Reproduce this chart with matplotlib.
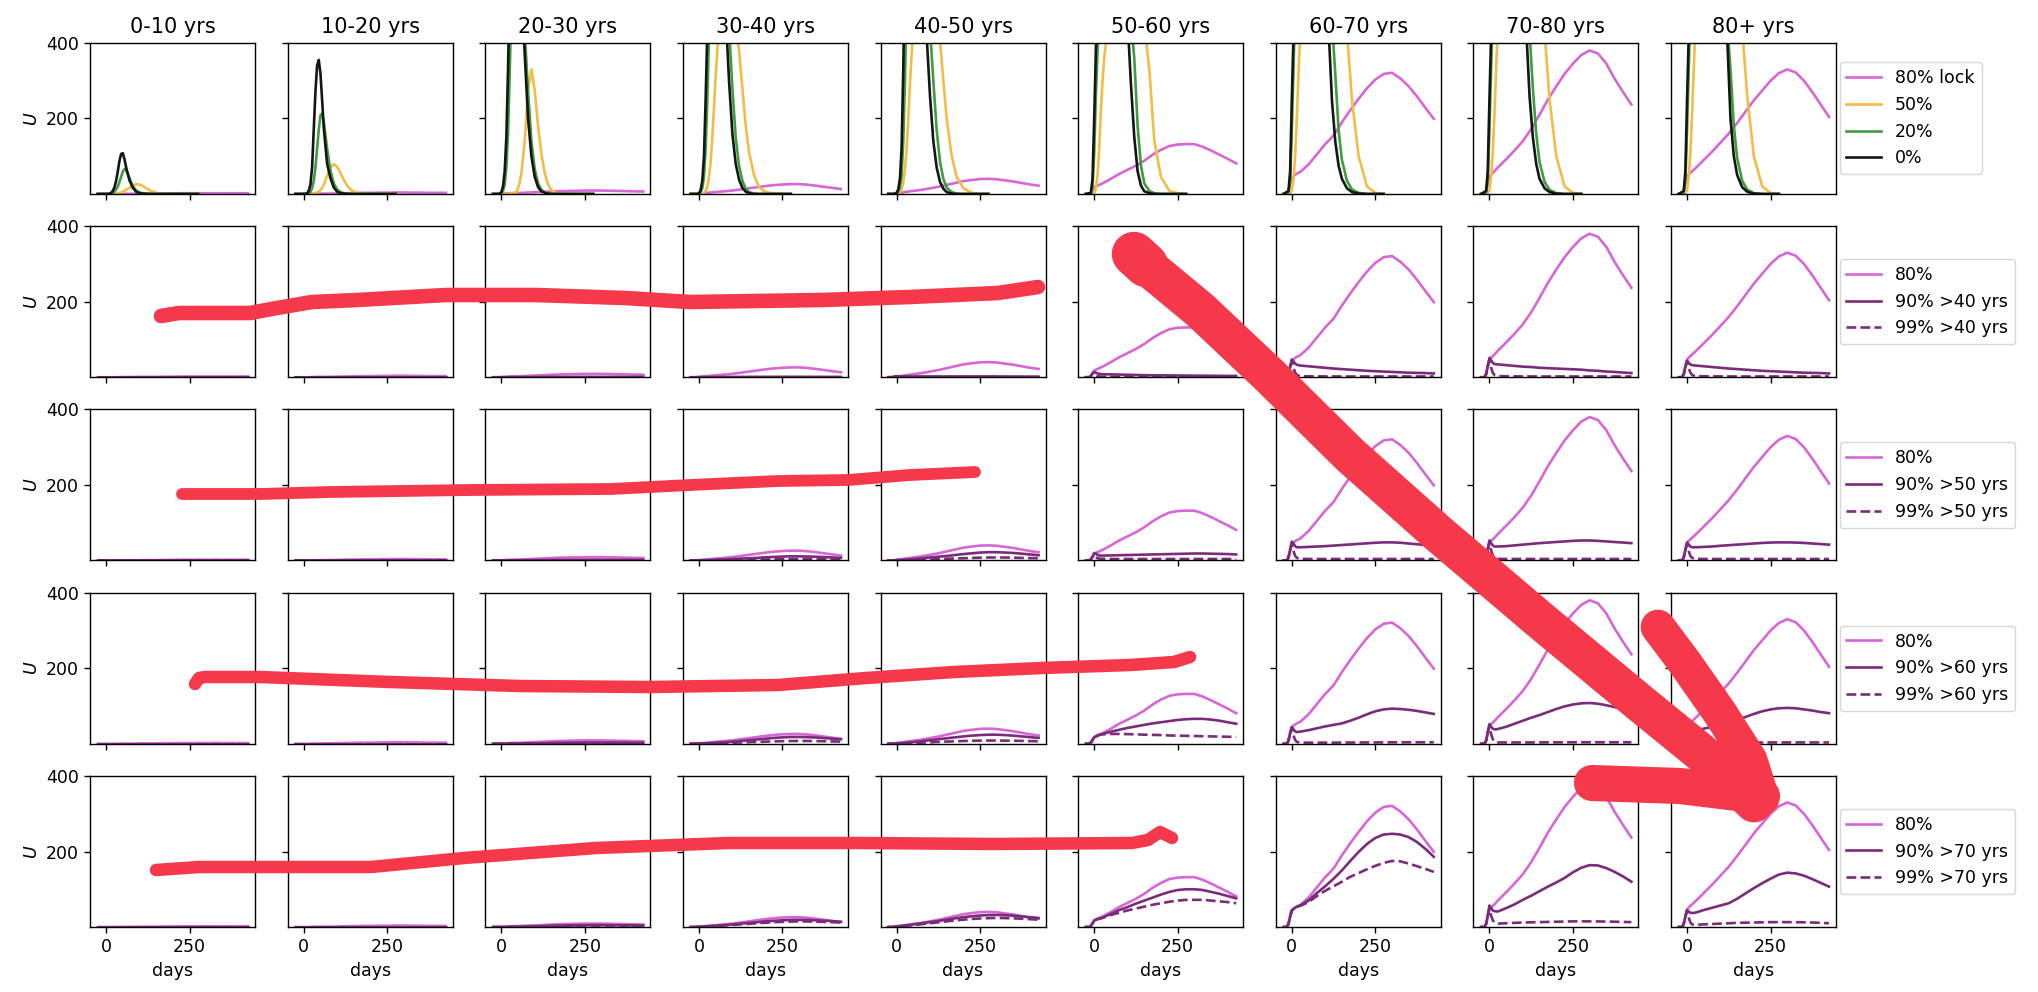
import numpy as np
import matplotlib
matplotlib.use("Agg")
import matplotlib.pyplot as plt
from matplotlib.lines import Line2D

# ---------------- data ----------------
age_groups = ["0-10 yrs", "10-20 yrs", "20-30 yrs", "30-40 yrs", "40-50 yrs",
              "50-60 yrs", "60-70 yrs", "70-80 yrs", "80+ yrs"]
thresholds = [40, 50, 60, 70]

# day grid of the slow (lockdown) runs
days = [-25, -15, -10, -5, 0, 5, 10, 15, 25, 50, 75, 100, 125, 150, 175, 200,
        225, 250, 275, 300, 325, 350, 375, 400, 425]
# day grid of the fast (little / no lockdown) runs
days_fast = [-25, -10, -5, 0, 5, 10, 15, 20, 25, 30, 35, 40, 45, 50, 55, 60, 70,
             80, 90, 100, 110, 120, 130, 140, 150, 165, 180, 200, 225, 250, 275]

Z = [0, 0, 0, 0, 0, 0, 0, 0, 0, 0, 0, 0, 0, 0, 0, 0, 0, 0, 0, 0, 0, 0, 0, 0, 0]

# 80 % lockdown (all age groups)
LOCK80 = [
    [0, 0, 0, 0, 0, 0, 0, 0, 0, 0.5, 0.5, 1, 1, 1, 1.5, 1.5, 2, 2, 2, 2, 2, 2, 2, 2, 2],
    [0, 0, 0, 0, 0, 0, 0, 0, 0.5, 1, 1, 1.5, 2, 2.5, 3, 3, 3.5, 3.5, 4, 4, 3.5, 3.5, 3, 3, 3],
    [0, 0, 0, 0, 0.5, 1, 1, 1.5, 2, 2.5, 3.5, 4.5, 5.5, 6.5, 7.5, 8, 8.5, 9, 9, 9, 8.5, 8, 7.5, 7, 6.5],
    [0, 0, 0, 0.5, 1, 1.5, 2, 2, 3, 5, 7, 9, 12, 15, 18, 21, 23.5, 25, 26, 26, 24.5, 22, 19, 16, 13],
    [0, 0, 0, 1, 2, 2.5, 3, 3.5, 5, 8, 11, 15, 19, 24, 29, 34, 37, 39.5, 40, 39, 36, 33, 29, 25, 22],
    [0, 0, 3, 10, 18, 20, 22, 24, 28, 40, 53, 64, 75, 88, 104, 117, 127, 131, 132, 132, 125, 115, 104, 93, 81],
    [0, 0, 8, 28, 44, 48, 51, 54, 58, 78, 105, 132, 155, 190, 222, 252, 280, 303, 318, 321, 306, 285, 258, 228, 199],
    [0, 0, 8, 28, 46, 52, 56, 60, 70, 92, 115, 140, 172, 210, 250, 285, 318, 345, 368, 380, 372, 345, 305, 270, 237],
    [0, 0, 8, 28, 46, 52, 56, 60, 68, 90, 112, 136, 160, 188, 218, 248, 274, 300, 320, 330, 322, 300, 270, 237, 204],
]

# 50 % lockdown
FAST50 = [
    [0, 0, 0, 0, 0, 0, 0, 0, 1, 1, 2, 3, 4, 6, 8, 11, 17, 22, 26, 25, 21, 15, 10, 6, 3, 1, 0, 0, 0, 0, 0],
    [0, 0, 0, 0, 0, 0, 0, 0, 1, 2, 3, 4, 6, 10, 16, 25, 48, 70, 79, 72, 55, 37, 22, 12, 6, 2, 1, 0, 0, 0, 0],
    [0, 0, 0, 0, 0, 0, 0, 0, 1, 2, 3, 3, 5, 15, 30, 55, 140, 275, 330, 275, 180, 105, 55, 25, 10, 3, 1, 0, 0, 0, 0],
    [0, 0, 0, 0, 0, 1, 3, 8, 20, 45, 85, 150, 230, 310, 380, 450, 560, 600, 580, 520, 450, 380, 280, 180, 110, 50, 18, 5, 1, 0, 0],
    [0, 0, 0, 0, 1, 4, 12, 30, 65, 120, 200, 290, 370, 440, 510, 580, 700, 750, 730, 660, 560, 470, 410, 300, 200, 100, 45, 15, 3, 0, 0],
    [0, 0, 0, 2, 15, 50, 120, 220, 300, 360, 400, 450, 500, 600, 680, 750, 850, 950, 950, 900, 820, 750, 650, 550, 450, 330, 140, 45, 8, 2, 0],
    [0, 0, 2, 10, 40, 100, 200, 320, 420, 520, 600, 680, 760, 830, 900, 950, 1050, 1100, 1080, 1000, 900, 800, 700, 600, 520, 430, 250, 100, 20, 3, 0],
    [0, 0, 2, 10, 45, 110, 210, 330, 440, 540, 620, 700, 780, 850, 920, 980, 1080, 1120, 1100, 1020, 920, 820, 720, 620, 530, 430, 250, 100, 20, 3, 0],
    [0, 0, 2, 10, 45, 110, 210, 330, 440, 540, 620, 700, 780, 850, 920, 980, 1080, 1120, 1100, 1030, 940, 840, 740, 640, 550, 440, 260, 100, 20, 3, 0],
]

# 20 % lockdown
FAST20 = [
    [0, 0, 0, 0, 0, 0, 1, 3, 6, 12, 20, 32, 46, 59, 66, 63, 42, 21, 9, 4, 2, 1, 0, 0, 0, 0, 0, 0, 0, 0, 0],
    [0, 0, 0, 0, 0, 1, 2, 5, 15, 35, 70, 120, 170, 208, 213, 192, 120, 62, 28, 12, 5, 2, 1, 0, 0, 0, 0, 0, 0, 0, 0],
    [0, 0, 0, 2, 8, 25, 70, 160, 320, 500, 700, 820, 850, 820, 720, 610, 430, 270, 140, 65, 28, 11, 4, 1, 0, 0, 0, 0, 0, 0, 0],
    [0, 0, 0, 1, 5, 15, 45, 120, 250, 420, 650, 880, 1050, 1150, 1150, 1100, 850, 600, 440, 280, 150, 75, 35, 14, 5, 1, 0, 0, 0, 0, 0],
    [0, 0, 0, 1, 5, 18, 50, 140, 300, 500, 750, 1000, 1200, 1400, 1400, 1350, 1050, 750, 550, 440, 300, 170, 85, 40, 17, 5, 1, 0, 0, 0, 0],
    [0, 1, 20, 110, 260, 380, 500, 800, 1100, 1400, 1600, 1800, 1850, 1800, 1700, 1500, 1150, 900, 700, 560, 460, 360, 180, 75, 28, 8, 2, 0, 0, 0, 0],
    [0, 4, 35, 170, 330, 500, 800, 1100, 1400, 1700, 1900, 2000, 2050, 2000, 1900, 1750, 1400, 1050, 800, 620, 520, 460, 320, 170, 90, 35, 12, 3, 0, 0, 0],
    [0, 4, 35, 170, 330, 500, 800, 1100, 1400, 1700, 1900, 2050, 2100, 2050, 1950, 1800, 1450, 1100, 850, 650, 520, 430, 280, 160, 85, 32, 11, 2, 0, 0, 0],
    [0, 4, 35, 170, 330, 500, 800, 1100, 1400, 1700, 1900, 2050, 2100, 2050, 1950, 1800, 1450, 1150, 900, 700, 560, 460, 330, 180, 95, 35, 12, 2, 0, 0, 0],
]

# 0 % lockdown
FAST0 = [
    [0, 0, 0, 0, 0, 1, 3, 8, 18, 35, 60, 88, 106, 108, 92, 70, 36, 16, 6, 2, 1, 0, 0, 0, 0, 0, 0, 0, 0, 0, 0],
    [0, 0, 0, 0, 0, 2, 8, 25, 70, 170, 270, 340, 355, 320, 250, 175, 80, 42, 17, 6, 2, 1, 0, 0, 0, 0, 0, 0, 0, 0, 0],
    [0, 0, 1, 5, 20, 60, 150, 330, 550, 760, 900, 950, 920, 820, 680, 540, 370, 200, 100, 45, 18, 7, 3, 1, 0, 0, 0, 0, 0, 0, 0],
    [0, 0, 0, 2, 10, 35, 100, 250, 430, 650, 900, 1100, 1250, 1300, 1200, 1100, 800, 480, 300, 160, 80, 38, 16, 6, 2, 0, 0, 0, 0, 0, 0],
    [0, 0, 1, 3, 12, 40, 120, 330, 600, 900, 1150, 1400, 1500, 1600, 1500, 1400, 1000, 650, 420, 260, 140, 70, 32, 14, 5, 1, 0, 0, 0, 0, 0],
    [0, 3, 40, 200, 380, 700, 1000, 1300, 1600, 1800, 1900, 2000, 2000, 1900, 1750, 1600, 1250, 900, 650, 460, 290, 150, 60, 22, 7, 2, 0, 0, 0, 0, 0],
    [0, 8, 60, 250, 420, 750, 1100, 1400, 1700, 1900, 2100, 2200, 2200, 2100, 2000, 1800, 1400, 1000, 700, 520, 440, 250, 140, 75, 40, 15, 5, 1, 0, 0, 0],
    [0, 8, 60, 250, 420, 750, 1100, 1400, 1700, 1900, 2100, 2200, 2250, 2200, 2100, 1900, 1500, 1100, 780, 560, 440, 260, 150, 80, 40, 15, 5, 1, 0, 0, 0],
    [0, 8, 60, 250, 420, 750, 1100, 1400, 1700, 1900, 2100, 2200, 2250, 2200, 2100, 1950, 1550, 1150, 820, 600, 480, 420, 200, 100, 50, 18, 6, 1, 0, 0, 0],
]

# 90 % / 99 % lockdown of the groups above 40 years
P90_GT40 = [
    Z, Z,
    [0, 0, 0, 0, 0, 0, 0, 0, 0, 0.2, 0.3, 0.4, 0.5, 0.6, 0.7, 0.8, 0.8, 0.9, 0.9, 0.9, 0.9, 0.8, 0.8, 0.7, 0.7],
    [0, 0, 0, 0, 0.3, 0.3, 0.3, 0.3, 0.4, 0.5, 0.6, 0.7, 0.8, 0.9, 1, 1, 1.1, 1.1, 1.1, 1.1, 1, 1, 0.9, 0.9, 0.8],
    [0, 0, 0.5, 2, 3, 2.5, 2, 2, 2, 2, 2, 2, 2, 2, 2, 2, 2, 2, 2, 2, 1.8, 1.7, 1.6, 1.5, 1.4],
    [0, 0, 3, 10, 14, 12, 10, 9, 8, 7.5, 7, 6.5, 6, 5.5, 5, 5, 4.8, 4.6, 4.4, 4.2, 4, 3.9, 3.7, 3.6, 3.5],
    [0, 0, 8, 28, 47, 42, 36, 33, 31, 29, 27, 25, 23, 21.5, 20, 18.5, 17, 16, 15, 14, 13, 12, 11.5, 11, 10],
    [0, 0, 8, 30, 51, 45, 38, 35, 34, 32, 30, 28, 27, 25, 24, 23, 22, 21, 20, 18, 17, 15, 14, 12.5, 11],
    [0, 0, 8, 28, 44, 38, 34, 32, 31, 29, 27, 25, 23, 21.5, 20, 18.5, 17, 16, 15, 14, 13, 12, 11.5, 11, 10],
]
P99_GT40 = [
    Z, Z, Z, Z,
    [0, 0, 0.5, 2, 2.5, 1.5, 1, 0.7, 0.5, 0.5, 0.5, 0.5, 0.5, 0.5, 0.5, 0.5, 0.5, 0.5, 0.5, 0.5, 0.5, 0.5, 0.5, 0.5, 0.5],
    [0, 0, 3, 10, 12, 6, 3, 2, 1.5, 1.2, 1, 1, 1, 1, 1, 1, 1, 1, 1, 1, 1, 1, 1, 1, 1],
    [0, 0, 8, 28, 42, 25, 12, 6, 3, 2.5, 2.3, 2.2, 2.1, 2, 2, 2, 2, 2, 2, 2, 2, 2, 2, 2, 2],
    [0, 0, 8, 30, 45, 25, 12, 6, 3, 2.5, 2.3, 2.2, 2.1, 2, 2, 2, 2, 2, 2, 2, 2, 2, 2, 2, 2],
    [0, 0, 8, 28, 42, 24, 12, 6, 3, 2.5, 2.3, 2.2, 2.1, 2, 2, 2, 2, 2, 2, 2, 2, 2, 2, 2, 2],
]

# above 50 years
P90_GT50 = [
    Z, Z,
    [0, 0, 0, 0, 0, 0, 0, 0, 0.2, 0.4, 0.6, 0.8, 1, 1.2, 1.4, 1.6, 1.8, 1.9, 2, 2, 1.9, 1.8, 1.7, 1.6, 1.5],
    [0, 0, 0, 0, 0.5, 0.5, 0.6, 0.7, 1, 2, 3, 4, 5, 6, 7, 8.5, 9.5, 10.5, 11, 11, 10.5, 10, 9, 8, 7],
    [0, 0, 0, 0.5, 1, 1.2, 1.4, 1.6, 2, 4, 6, 8, 10, 12, 14.5, 17, 19, 21, 22, 22, 21, 20, 18, 16, 14],
    [0, 0, 3, 10, 20, 18, 15, 13, 13, 13.5, 14, 14.5, 15, 15.5, 16, 16.5, 17, 17.5, 18, 18.5, 18.5, 18, 17.5, 17, 16],
    [0, 0, 8, 28, 50, 44, 38, 35, 35, 36, 37, 38, 39.5, 41, 42.5, 44, 45.5, 47, 48, 48, 47, 45, 43, 41, 39],
    [0, 0, 8, 30, 53, 46, 40, 37, 37, 38, 40, 42, 44, 46, 47.5, 49, 50.5, 52, 53, 53, 52, 50.5, 49, 47.5, 46],
    [0, 0, 8, 28, 48, 42, 37, 35, 35, 36, 37, 39, 40.5, 42, 43.5, 45, 46.5, 47.5, 48, 48, 47.5, 46.5, 45, 43.5, 42],
]
P99_GT50 = [
    Z, Z,
    [0, 0, 0, 0, 0, 0, 0, 0, 0.1, 0.2, 0.3, 0.4, 0.5, 0.5, 0.6, 0.6, 0.7, 0.7, 0.7, 0.7, 0.7, 0.7, 0.6, 0.6, 0.6],
    [0, 0, 0, 0, 0.2, 0.2, 0.2, 0.3, 0.4, 0.7, 1, 1.4, 1.8, 2.2, 2.6, 3, 3.4, 3.7, 3.9, 4, 3.9, 3.7, 3.4, 3.1, 2.8],
    [0, 0, 0, 0.3, 0.5, 0.5, 0.6, 0.7, 1, 1.7, 2.4, 3.1, 3.8, 4.6, 5.4, 6.1, 6.8, 7.4, 7.9, 8, 7.8, 7.4, 6.9, 6.4, 6],
    [0, 0, 3, 10, 15, 9, 6, 5, 4.5, 4, 4, 4, 4, 4, 4, 4, 4, 4, 4, 4, 4, 4, 4, 4, 4],
    [0, 0, 8, 28, 44, 25, 12, 7, 4.5, 4, 4, 4, 4, 4, 4, 4, 4, 4, 4, 4, 4, 4, 4, 4, 4],
    [0, 0, 8, 30, 48, 27, 13, 7, 4.5, 4, 4, 4, 4, 4, 4, 4, 4, 4, 4, 4, 4, 4, 4, 4, 4],
    [0, 0, 8, 28, 44, 25, 12, 7, 4.5, 4, 4, 4, 4, 4, 4, 4, 4, 4, 4, 4, 4, 4, 4, 4, 4],
]

# above 60 years
P90_GT60 = [
    Z, Z,
    [0, 0, 0, 0, 0, 0, 0, 0, 0.2, 0.5, 0.8, 1.1, 1.5, 1.9, 2.3, 2.6, 2.9, 3.1, 3.2, 3.2, 3.1, 3, 2.8, 2.6, 2.4],
    [0, 0, 0, 0.3, 0.6, 0.7, 0.8, 0.9, 1.2, 2.5, 4, 5.5, 7.5, 9.5, 11.5, 13.5, 15.5, 17, 18, 18, 17.5, 16.5, 15, 13.5, 12],
    [0, 0, 0, 0.6, 1.2, 1.4, 1.6, 1.8, 2.5, 4.5, 7, 9.5, 12, 14.5, 17, 19.5, 21.5, 23, 24, 24, 23, 21.5, 19.5, 17.5, 15.5],
    [0, 0, 3, 10, 17, 19, 21, 23, 26, 32, 37, 42, 46, 50, 54, 57, 60, 63, 65, 66, 66, 64, 61, 57, 53],
    [0, 0, 8, 28, 44, 38, 33, 31, 32, 36, 41, 46, 50, 54, 61, 69, 78, 86, 91, 93, 92, 90, 87, 83, 79],
    [0, 0, 8, 30, 52, 45, 40, 38, 39, 45, 53, 61, 69, 76, 84, 92, 99, 104, 107, 108, 106, 102, 97, 92, 87],
    [0, 0, 8, 28, 46, 40, 36, 35, 36, 40, 45, 51, 57, 64, 71, 79, 86, 91, 94, 95, 94, 91, 88, 84, 81],
]
P99_GT60 = [
    Z, Z,
    [0, 0, 0, 0, 0, 0, 0, 0, 0.1, 0.3, 0.5, 0.7, 0.9, 1.1, 1.3, 1.5, 1.7, 1.8, 1.9, 1.9, 1.9, 1.8, 1.7, 1.6, 1.5],
    [0, 0, 0, 0.2, 0.4, 0.4, 0.5, 0.5, 0.7, 1.3, 2, 2.7, 3.5, 4.3, 5, 5.7, 6.3, 6.9, 7.3, 7.5, 7.4, 7.1, 6.7, 6.2, 5.7],
    [0, 0, 0, 0.3, 0.6, 0.7, 0.8, 0.9, 1.2, 2, 3, 4, 5, 5.8, 6.6, 7.3, 7.9, 8.3, 8.5, 8.5, 8.3, 8, 7.6, 7.1, 6.6],
    [0, 0, 3, 10, 17, 20, 22, 24, 25, 26, 26, 25.5, 25, 24, 23.5, 23, 22, 21.5, 21, 20.5, 20, 19.5, 19, 18.5, 18],
    [0, 0, 8, 28, 42, 22, 10, 5, 3, 3, 3, 3, 3, 3.2, 3.3, 3.4, 3.5, 3.6, 3.7, 3.8, 3.9, 4, 4, 4, 4],
    [0, 0, 8, 30, 48, 26, 12, 6, 3.5, 3.5, 3.5, 3.5, 3.5, 3.6, 3.7, 3.8, 3.9, 4, 4, 4, 4, 4, 4, 4, 4],
    [0, 0, 8, 28, 44, 24, 11, 5.5, 3, 3, 3, 3, 3, 3.1, 3.2, 3.3, 3.4, 3.5, 3.5, 3.5, 3.5, 3.5, 3.5, 3.5, 3.5],
]

# above 70 years
P90_GT70 = [
    Z, Z,
    [0, 0, 0, 0, 0, 0, 0, 0, 0.3, 0.8, 1.3, 1.8, 2.4, 3, 3.5, 4, 4.4, 4.7, 4.9, 5, 4.9, 4.7, 4.5, 4.2, 4],
    [0, 0, 0, 0.4, 0.8, 1, 1.2, 1.4, 2, 3.5, 5, 7, 9, 11, 13, 15, 16.5, 17.8, 18.7, 19, 18.6, 17.8, 16.7, 15.5, 14],
    [0, 0, 0, 0.8, 1.6, 2, 2.4, 2.8, 4, 7, 10, 13, 16, 19.5, 23, 26, 28.5, 30.5, 31.7, 32, 31.3, 30, 28, 26, 24],
    [0, 0, 3, 10, 17, 19, 21, 22, 25, 35, 45, 53, 62, 70, 78, 86, 93, 98, 100, 100, 98, 93, 88, 82, 76],
    [0, 0, 8, 28, 44, 48, 51, 54, 57, 70, 90, 108, 128, 150, 175, 199, 220, 236, 245, 247, 245, 238, 225, 207, 186],
    [0, 0, 8, 30, 57, 50, 44, 42, 41, 50, 60, 72, 83, 95, 107, 118, 130, 145, 157, 164, 163, 156, 146, 134, 120],
    [0, 0, 8, 28, 44, 40, 38, 37, 38, 45, 51, 57, 63, 75, 89, 103, 116, 128, 139, 144, 142, 136, 127, 117, 107],
]
P99_GT70 = [
    Z, Z,
    [0, 0, 0, 0, 0, 0, 0, 0, 0.2, 0.6, 1, 1.4, 1.9, 2.4, 2.8, 3.2, 3.5, 3.8, 3.9, 4, 3.9, 3.8, 3.6, 3.4, 3.2],
    [0, 0, 0, 0.3, 0.6, 0.8, 1, 1.1, 1.6, 2.8, 4, 5.5, 7, 8.5, 10, 11.5, 12.8, 13.8, 14.5, 15, 14.8, 14.3, 13.6, 12.8, 12],
    [0, 0, 0, 0.6, 1.2, 1.5, 1.8, 2.1, 3, 5, 7.5, 10, 12.5, 15, 17.5, 19.5, 21.3, 22.7, 23.6, 24, 23.7, 23, 22, 20.8, 19.5],
    [0, 0, 3, 10, 17, 19, 21, 22, 24, 32, 38, 44, 49, 54, 59, 63, 67, 70, 72, 72, 72, 70, 68, 66, 63],
    [0, 0, 8, 28, 44, 48, 51, 54, 56, 66, 82, 96, 108, 120, 133, 143, 153, 162, 170, 175, 174, 168, 161, 154, 146],
    [0, 0, 8, 30, 50, 30, 18, 12, 9, 10, 11, 12, 12.5, 13, 13.5, 14, 14.5, 15, 15, 15, 14.8, 14.5, 14, 13.5, 13],
    [0, 0, 8, 28, 44, 25, 12, 7, 6, 7, 8, 9, 10, 11, 11.5, 12, 12.5, 13, 13, 13, 12.8, 12.5, 12, 11, 10],
]

P90_ROWS = [P90_GT40, P90_GT50, P90_GT60, P90_GT70]
P99_ROWS = [P99_GT40, P99_GT50, P99_GT60, P99_GT70]

# hand-drawn red annotation strokes (figure pixel coordinates, y from top)
stroke_r2_x = [161, 179, 250, 277, 312, 357, 446, 536, 625, 690, 822, 910, 998, 1038]
stroke_r2_y = [316, 313, 313, 308, 302, 300, 295, 295, 298, 302, 300, 297, 293, 287]
stroke_r3_x = [182, 260, 330, 470, 611, 690, 778, 848, 910, 975]
stroke_r3_y = [494, 494, 492, 490, 489, 485, 481, 480, 475, 472]
stroke_r4_x = [195, 199, 205, 260, 390, 520, 650, 778, 866, 954, 1042, 1130, 1174, 1190]
stroke_r4_y = [684, 678, 677, 677, 682, 686, 687, 685, 678, 672, 668, 665, 662, 657]
stroke_r5_x = [156, 199, 371, 464, 596, 728, 861, 993, 1132, 1148, 1160, 1172]
stroke_r5_y = [870, 867, 867, 858, 848, 843, 843, 844, 843, 840, 832, 838]
arrow_x = [1136, 1200, 1270, 1350, 1440, 1540, 1640, 1710, 1754]
arrow_y = [257, 310, 376, 455, 535, 620, 703, 760, 803]
blob_x = [1134, 1146]
blob_y = [254, 265]
arm_right_x = [1658, 1685, 1720, 1750, 1762]
arm_right_y = [627, 663, 713, 760, 798]
arm_left_x = [1592, 1680, 1762]
arm_left_y = [783, 786, 796]

# ---------------- styling ----------------
W, H = 2038, 992
RED = "#f6384b"
C_LOCK = "#d766d7"
C_50 = "#f2bd45"
C_20 = "#3f9c3f"
C_0 = "#151515"
C_90 = "#7a2c7a"
FS = 12.5

plt.rcParams.update({
    "font.family": ["DejaVu Sans"],
    "font.size": FS,
    "axes.linewidth": 1.0,
    "xtick.major.width": 1.0,
    "ytick.major.width": 1.0,
    "xtick.major.size": 4.4,
    "ytick.major.size": 4.4,
    "xtick.labelsize": FS,
    "ytick.labelsize": FS,
    "lines.linewidth": 1.9,
    "legend.fontsize": FS,
})

fig, axes = plt.subplots(5, 9, figsize=(W / 100, H / 100), dpi=100,
                         sharex=True, sharey=True)
fig.subplots_adjust(left=0.0442, right=0.9009, top=0.9567, bottom=0.0655,
                    wspace=0.1976, hspace=0.2136)

for r in range(5):
    for c in range(9):
        ax = axes[r][c]
        if r == 0:
            ax.plot(days, LOCK80[c], color=C_LOCK, label="80% lock")
            ax.plot(days_fast, FAST50[c], color=C_50, label="50%")
            ax.plot(days_fast, FAST20[c], color=C_20, label="20%")
            ax.plot(days_fast, FAST0[c], color=C_0, label="0%")
            ax.set_title(age_groups[c], fontsize=15, pad=7)
        else:
            thr = thresholds[r - 1]
            ax.plot(days, LOCK80[c], color=C_LOCK, label="80%")
            ax.plot(days, P90_ROWS[r - 1][c], color=C_90, label=f"90% >{thr} yrs")
            ax.plot(days, P99_ROWS[r - 1][c], color=C_90, ls="--",
                    label=f"99% >{thr} yrs")
        ax.set_xlim(-48, 446)
        ax.set_ylim(0, 400)
        ax.set_xticks([0, 250])
        ax.set_yticks([200, 400])
        if c == 0:
            ax.set_ylabel("$U$")
        if r == 4:
            ax.set_xlabel("days")
        if c == 8:
            ax.legend(loc="center left", bbox_to_anchor=(1.0, 0.5),
                      borderaxespad=0.2)


def stroke(xs, ys, lw):
    fig.add_artist(Line2D(np.array(xs) / W, 1 - np.array(ys) / H,
                          transform=fig.transFigure, color=RED, lw=lw,
                          solid_capstyle="round", solid_joinstyle="round",
                          zorder=20))


stroke(stroke_r2_x, stroke_r2_y, 10.5)
stroke(stroke_r3_x, stroke_r3_y, 8.5)
stroke(stroke_r4_x, stroke_r4_y, 9)
stroke(stroke_r5_x, stroke_r5_y, 9)
stroke(arrow_x, arrow_y, 28)
stroke(blob_x, blob_y, 32)
stroke(arm_right_x, arm_right_y, 25)
stroke(arm_left_x, arm_left_y, 26)

fig.savefig("out.png", dpi=100)
